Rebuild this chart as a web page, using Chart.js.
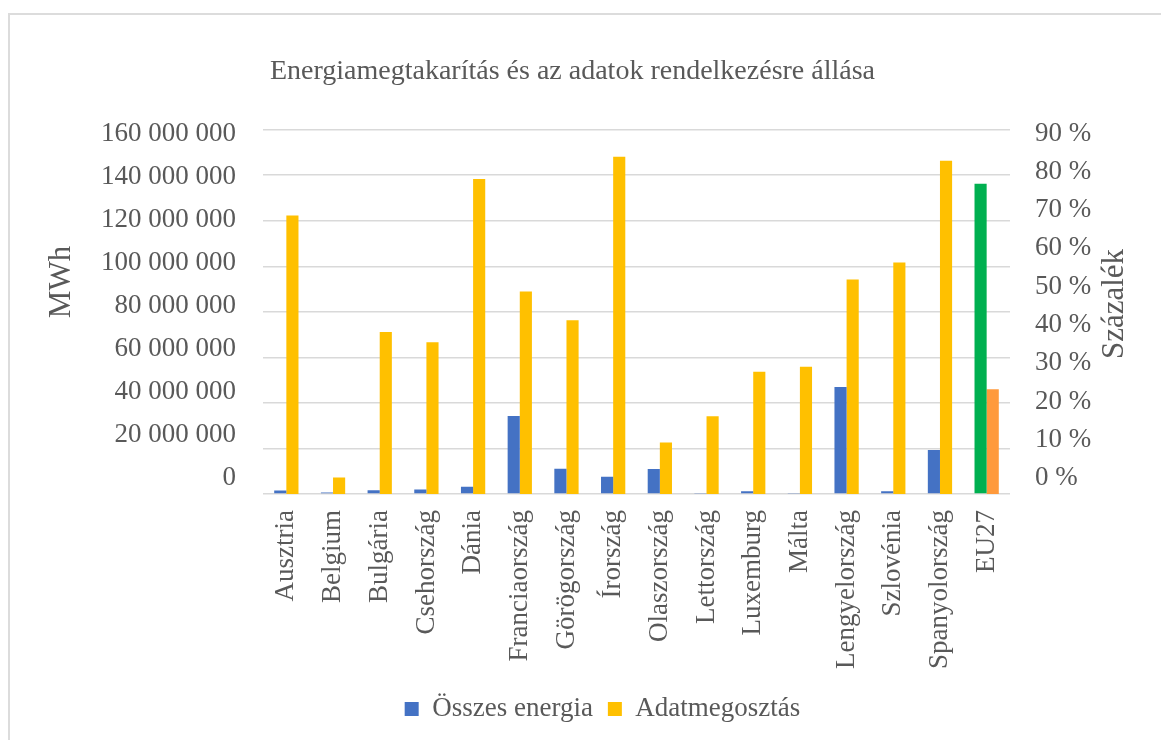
<!DOCTYPE html>
<html>
<head>
<meta charset="utf-8">
<script src="https://cdn.jsdelivr.net/npm/chart.js@4"></script>
<style>
html,body{margin:0;padding:0;background:#fff;}
#wrap{position:relative;width:1161px;height:740px;overflow:hidden;background:#fff;}
#frame{position:absolute;left:8px;top:13px;width:1300px;height:900px;border-left:2px solid #dcdcdc;border-top:2px solid #dcdcdc;}
canvas{position:absolute;left:0;top:0;}
</style>
</head>
<body>
<div id="wrap"><div id="frame"></div><canvas id="c" width="1161" height="740"></canvas></div>
<script>
// ---- data ----
const categories = ['Ausztria','Belgium','Bulgária','Csehország','Dánia','Franciaország','Görögország','Írország','Olaszország','Lettország','Luxemburg','Málta','Lengyelország','Szlovénia','Spanyolország','EU27'];
const energyMWh = [1500000, 700000, 1600000, 2000000, 3200000, 34200000, 11100000, 7600000, 11000000, 400000, 1200000, 400000, 47000000, 1200000, 19300000, 136200000];
const dataSharingPct = [68.8, 4.1, 40.0, 37.5, 77.8, 50.0, 42.9, 83.3, 12.7, 19.2, 30.2, 31.4, 53.0, 57.2, 82.3, 25.9];
const leftTickValues = [0, 20000000, 40000000, 60000000, 80000000, 100000000, 120000000, 140000000, 160000000];
const rightTickValues = [0, 10, 20, 30, 40, 50, 60, 70, 80, 90];
const seriesNames = ['Összes energia', 'Adatmegosztás'];
const chartTitle = 'Energiamegtakarítás és az adatok rendelkezésre állása';
const leftAxisTitle = 'MWh';
const rightAxisTitle = 'Százalék';

// ---- styles ----
const BLUE = '#4472C4', YELLOW = '#FFC000', GREEN = '#00B050', ORANGE = '#FF9A3C';
const TEXT = '#595959', GRID = '#d9d9d9';
const FONT = "'Liberation Serif', 'Times New Roman', serif";
const energyColors = categories.map(c => c === 'EU27' ? GREEN : BLUE);
const sharingColors = categories.map(c => c === 'EU27' ? ORANGE : YELLOW);

Chart.defaults.font.family = FONT;
Chart.defaults.color = TEXT;

function fmtSpace(v){ return String(v).replace(/\B(?=(\d{3})+(?!\d))/g, ' '); }

const axisTitles = {
  id: 'axisTitles',
  afterLayout(chart){
    // legend and title in the reference sit slightly off the canvas centre
    const lg = chart.legend;
    if (lg) { lg.left += 22; lg.right += 22; }
    const tt = chart.titleBlock;
    if (tt) { tt.left -= 8; tt.right -= 8; }
  },
  afterDraw(chart){
    const ctx = chart.ctx;
    ctx.save();
    ctx.fillStyle = TEXT;
    ctx.font = "31px " + FONT;
    ctx.textAlign = 'center';
    ctx.textBaseline = 'middle';
    [[leftAxisTitle, 62, 282], [rightAxisTitle, 1115, 304]].forEach(([t, x, y]) => {
      ctx.save();
      ctx.translate(x, y);
      ctx.rotate(-Math.PI / 2);
      ctx.fillText(t, 0, 0);
      ctx.restore();
    });
    ctx.restore();
  }
};

new Chart(document.getElementById('c'), {
  type: 'bar',
  data: {
    labels: categories,
    datasets: [
      { label: seriesNames[0], data: energyMWh, yAxisID: 'y', backgroundColor: energyColors, borderWidth: 0,
        categoryPercentage: 0.52, barPercentage: 1.0 },
      { label: seriesNames[1], data: dataSharingPct, yAxisID: 'y2', backgroundColor: sharingColors, borderWidth: 0,
        categoryPercentage: 0.52, barPercentage: 1.0 }
    ]
  },
  options: {
    responsive: false,
    animation: false,
    devicePixelRatio: 1,
    layout: { padding: { left: 0, right: 0, top: 0, bottom: 7.5 } },
    plugins: {
      title: { display: true, text: chartTitle, color: TEXT, font: { size: 28, weight: 'normal' },
               padding: { top: 55, bottom: 41 } },
      legend: { position: 'bottom',
        labels: { color: TEXT, font: { size: 27 }, boxWidth: 14, boxHeight: 14, padding: 15,
          generateLabels: (chart) => chart.data.datasets.map((ds, i) => ({
            text: ds.label, fillStyle: i === 0 ? BLUE : YELLOW, strokeStyle: i === 0 ? BLUE : YELLOW,
            lineWidth: 0, hidden: false, datasetIndex: i, fontColor: TEXT })) } },
      tooltip: { enabled: false }
    },
    scales: {
      x: {
        offset: true,
        grid: { display: false },
        border: { display: false },
        ticks: { color: TEXT, font: { size: 27 }, minRotation: 90, maxRotation: 90, autoSkip: false, padding: 8 },
        afterFit: s => { s.height = 186.5; }
      },
      y: {
        position: 'left', min: 0, max: 160000000,
        ticks: { display: false, stepSize: 20000000 },
        grid: { color: GRID, lineWidth: 1.5, drawTicks: false },
        border: { display: false },
        afterFit: s => { s.width = 0; }
      },
      yL: {
        position: 'left', min: -7420000, max: 161855000,
        grid: { display: false, drawTicks: false },
        border: { display: false },
        ticks: { color: TEXT, font: { size: 27 }, padding: 27, autoSkip: false, callback: v => fmtSpace(v) },
        afterBuildTicks: s => { s.ticks = leftTickValues.map(v => ({ value: v })); },
        afterFit: s => { s.width = 263; }
      },
      y2: { position: 'right', display: false, min: 0, max: 90 },
      y2L: {
        position: 'right', min: -4.174, max: 91.043,
        grid: { display: false, drawTicks: false },
        border: { display: false },
        ticks: { color: TEXT, font: { size: 27 }, padding: 25, autoSkip: false, callback: v => v + ' %' },
        afterBuildTicks: s => { s.ticks = rightTickValues.map(v => ({ value: v })); },
        afterFit: s => { s.width = 151; }
      }
    }
  },
  plugins: [axisTitles]
});
</script>
</body>
</html>
